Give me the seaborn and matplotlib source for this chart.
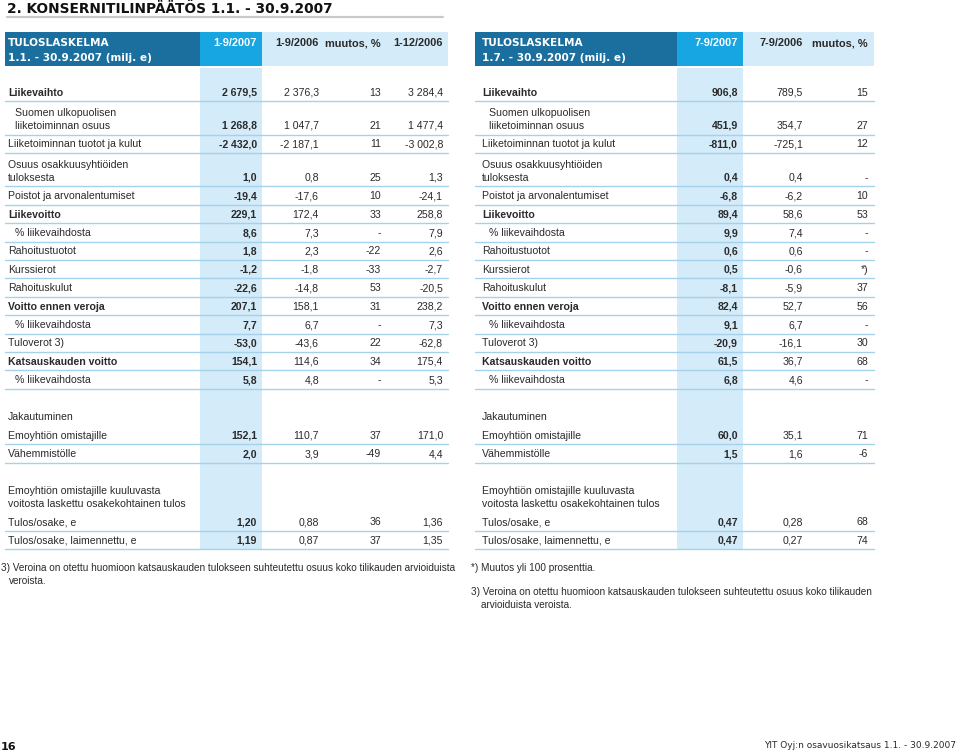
import matplotlib
matplotlib.use("Agg")
import matplotlib.pyplot as plt
import seaborn as sns
from matplotlib.patches import Rectangle

# ---------------- data ----------------
page_title = "2. KONSERNITILINPÄÄTÖS 1.1. - 30.9.2007"

main_labels = [
    "Liikevaihto",
    "Suomen ulkopuolisen\nliiketoiminnan osuus",
    "Liiketoiminnan tuotot ja kulut",
    "Osuus osakkuusyhtiöiden\ntuloksesta",
    "Poistot ja arvonalentumiset",
    "Liikevoitto",
    "% liikevaihdosta",
    "Rahoitustuotot",
    "Kurssierot",
    "Rahoituskulut",
    "Voitto ennen veroja",
    "% liikevaihdosta",
    "Tuloverot 3)",
    "Katsauskauden voitto",
    "% liikevaihdosta",
]
bold_rows = [0, 5, 10, 13]
indent_rows = [1, 6, 11, 14]

# 1.1. - 30.9. table
ytd_headers = ["1-9/2007", "1-9/2006", "muutos, %", "1-12/2006"]
ytd_2007 = ["2 679,5", "1 268,8", "-2 432,0", "1,0", "-19,4", "229,1", "8,6",
            "1,8", "-1,2", "-22,6", "207,1", "7,7", "-53,0", "154,1", "5,8"]
ytd_2006 = ["2 376,3", "1 047,7", "-2 187,1", "0,8", "-17,6", "172,4", "7,3",
            "2,3", "-1,8", "-14,8", "158,1", "6,7", "-43,6", "114,6", "4,8"]
ytd_change = ["13", "21", "11", "25", "10", "33", "-",
              "-22", "-33", "53", "31", "-", "22", "34", "-"]
fy_2006 = ["3 284,4", "1 477,4", "-3 002,8", "1,3", "-24,1", "258,8", "7,9",
           "2,6", "-2,7", "-20,5", "238,2", "7,3", "-62,8", "175,4", "5,3"]

# 1.7. - 30.9. table
q3_headers = ["7-9/2007", "7-9/2006", "muutos, %"]
q3_2007 = ["906,8", "451,9", "-811,0", "0,4", "-6,8", "89,4", "9,9",
           "0,6", "0,5", "-8,1", "82,4", "9,1", "-20,9", "61,5", "6,8"]
q3_2006 = ["789,5", "354,7", "-725,1", "0,4", "-6,2", "58,6", "7,4",
           "0,6", "-0,6", "-5,9", "52,7", "6,7", "-16,1", "36,7", "4,6"]
q3_change = ["15", "27", "12", "-", "10", "53", "-",
             "-", "*)", "37", "56", "-", "30", "68", "-"]

split_title = "Jakautuminen"
split_labels = ["Emoyhtiön omistajille", "Vähemmistölle"]
ytd_split = [["152,1", "2,0"], ["110,7", "3,9"], ["37", "-49"], ["171,0", "4,4"]]
q3_split = [["60,0", "1,5"], ["35,1", "1,6"], ["71", "-6"]]

eps_title = "Emoyhtiön omistajille kuuluvasta\nvoitosta laskettu osakekohtainen tulos"
eps_labels = ["Tulos/osake, e", "Tulos/osake, laimennettu, e"]
ytd_eps = [["1,20", "1,19"], ["0,88", "0,87"], ["36", "37"], ["1,36", "1,35"]]
q3_eps = [["0,47", "0,47"], ["0,28", "0,27"], ["68", "74"]]

ytd_note = ("3) Veroina on otettu huomioon katsauskauden tulokseen suhteutettu osuus koko tilikauden arvioiduista",
            "veroista.")
q3_notes = ("*) Muutos yli 100 prosenttia.",
            "3) Veroina on otettu huomioon katsauskauden tulokseen suhteutettu osuus koko tilikauden",
            "arvioiduista veroista.")
footer_page = "16"
footer_text = "YIT Oyj:n osavuosikatsaus 1.1. - 30.9.2007"

# ---------------- style ----------------
DARK = "#1b6f9e"
BRIGHT = "#17a6e2"
LIGHT = "#d4ecf9"
RULE = "#a5d2ea"
TXT = "#2a2a2a"
FS = 7.6        # table body
FS_NOTE = 7.2   # footnotes
FS_HEAD = 7.9   # column headers
WIDE = ["DejaVu Sans"]
ROW = 18.4
ROW2 = 33.5

sns.set_theme(style="white")
plt.rcParams["font.family"] = ["Liberation Sans", "DejaVu Sans"]

fig = plt.figure(figsize=(9.6, 7.55), dpi=100)
ax = fig.add_axes([0, 0, 1, 1])
ax.set_xlim(0, 960)
ax.set_ylim(755, 0)
ax.axis("off")


def draw_table(x0, x1, hx, lab_x, ind_x, col_r, headers, cols, title2,
               split_cols, eps_cols):
    # header band and highlighted current-period column
    ax.add_patch(Rectangle((x0, 32), hx[0] - x0, 34, color=DARK, lw=0))
    ax.add_patch(Rectangle((hx[0], 32), hx[1] - hx[0], 34, color=BRIGHT, lw=0))
    ax.add_patch(Rectangle((hx[1], 32), x1 - hx[1], 34, color=LIGHT, lw=0))
    ax.add_patch(Rectangle((hx[0], 68), hx[1] - hx[0], 481, color=LIGHT, lw=0))
    ax.text(lab_x, 43, "TULOSLASKELMA", color="white", fontsize=7.6,
            fontweight="bold", va="center", family=WIDE)
    ax.text(lab_x, 58, title2, color="white", fontsize=7.6,
            fontweight="bold", va="center", family=WIDE)
    for i, h in enumerate(headers):
        ax.text(col_r[i], 43, h, color="white" if i == 0 else TXT,
                fontsize=FS_HEAD, fontweight="bold", ha="right", va="center")

    def row(y_bot, label, vals, bold=False, indent=False, line=True):
        lines = label.split("\n")
        for k, s in enumerate(reversed(lines)):
            ax.text(ind_x if indent else lab_x, y_bot - 8.5 - 13 * k, s,
                    fontsize=FS, color=TXT, va="center",
                    fontweight="bold" if bold else "normal")
        for i, v in enumerate(vals):
            ax.text(col_r[i], y_bot - 8.5, v, fontsize=FS, color=TXT,
                    ha="right", va="center",
                    fontweight="bold" if i == 0 else "normal")
        if line:
            ax.plot([x0, x1], [y_bot, y_bot], color=RULE, lw=1.0)

    y = 82.6
    for r, lab in enumerate(main_labels):
        y += ROW2 if "\n" in lab else ROW
        row(y, lab, [c[r] for c in cols], bold=r in bold_rows,
            indent=r in indent_rows)

    y = 426
    row(y, split_title, [], line=False)
    for r, lab in enumerate(split_labels):
        y += ROW
        row(y, lab, [c[r] for c in split_cols])

    y = 512.5
    row(y, eps_title, [], line=False)
    for r, lab in enumerate(eps_labels):
        y += ROW
        row(y, lab, [c[r] for c in eps_cols])


draw_table(5, 448, (200, 262), 8, 15, [257, 319, 381, 443],
           ytd_headers, [ytd_2007, ytd_2006, ytd_change, fy_2006],
           "1.1. - 30.9.2007 (milj. e)", ytd_split, ytd_eps)
draw_table(475, 874, (677, 743), 482, 489, [738, 803, 868],
           q3_headers, [q3_2007, q3_2006, q3_change],
           "1.7. - 30.9.2007 (milj. e)", q3_split, q3_eps)

# page title
ax.text(7, 8.6, page_title, fontsize=9.9, fontweight="bold", color="#111111",
        va="center", family=WIDE)
ax.plot([7, 443], [16.5, 16.5], color="#c9c9c9", lw=1.6)

# footnotes
ax.text(1, 568, ytd_note[0], fontsize=FS_NOTE, color=TXT, va="center")
ax.text(9, 581, ytd_note[1], fontsize=FS_NOTE, color=TXT, va="center")
ax.text(471, 568, q3_notes[0], fontsize=FS_NOTE, color=TXT, va="center")
ax.text(471, 592, q3_notes[1], fontsize=FS_NOTE, color=TXT, va="center")
ax.text(481, 605, q3_notes[2], fontsize=FS_NOTE, color=TXT, va="center")

# footer
ax.text(1, 747, footer_page, fontsize=8, fontweight="bold", color="#111111",
        va="center", family=WIDE)
ax.text(956, 746, footer_text, fontsize=6.5, color=TXT, ha="right",
        va="center", family=WIDE)

fig.savefig("out.png", dpi=100)
